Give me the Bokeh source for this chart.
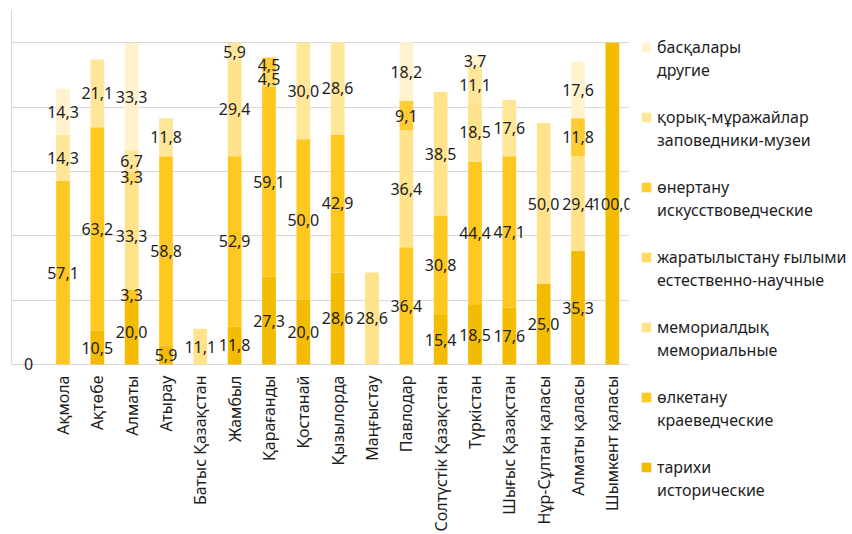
import math
from bokeh.plotting import figure
from bokeh.layouts import row
from bokeh.models import (ColumnDataSource, FactorRange, Range1d, FixedTicker, LabelSet,
                          Legend, LegendItem)
from bokeh.core.properties import value
from bokeh.embed import file_html
from bokeh.resources import INLINE

categories = [" ", "Ақмола", "Ақтөбе", "Алматы", "Атырау", "Батыс Қазақстан", "Жамбыл",
              "Қарағанды", "Қостанай", "Қызылорда", "Маңғыстау", "Павлодар",
              "Солтүстік Қазақстан", "Түркістан", "Шығыс Қазақстан", "Нұр-Сұлтан қаласы",
              "Алматы қаласы", "Шымкент қаласы"]

tarihi =    [0, 0, 10.5, 20.0, 5.9, 0, 11.8, 27.3, 20.0, 28.6, 0, 0, 15.4, 18.5, 17.6, 25.0, 35.3, 100.0]
olketanu =  [0, 57.1, 63.2, 3.3, 58.8, 0, 52.9, 59.1, 50.0, 42.9, 0, 36.4, 30.8, 44.4, 47.1, 0, 0, 0]
memorial =  [0, 0, 0, 33.3, 0, 11.1, 29.4, 0, 0, 0, 28.6, 36.4, 38.5, 18.5, 0, 50.0, 29.4, 0]
zharat =    [0, 0, 0, 3.3, 0, 0, 0, 4.5, 0, 0, 0, 0, 0, 0, 0, 0, 0, 0]
oner =      [0, 0, 0, 0, 0, 0, 0, 4.5, 0, 0, 0, 9.1, 0, 0, 0, 0, 11.8, 0]
koryk =     [0, 14.3, 21.1, 6.7, 11.8, 0, 5.9, 0, 30.0, 28.6, 0, 0, 0, 11.1, 17.6, 0, 0, 0]
baska =     [0, 14.3, 0, 33.3, 0, 0, 0, 0, 0, 0, 0, 18.2, 0, 3.7, 0, 0, 17.6, 0]

series_keys = ["tarihi", "olketanu", "memorial", "zharat", "oner", "koryk", "baska"]
names_kz = ["тарихи", "өлкетану", "мемориалдық", "жаратылыстану ғылыми", "өнертану",
            "қорық-мұражайлар", "басқалары"]
names_ru = ["исторические", "краеведческие", "мемориальные", "естественно-научные",
            "искусствоведческие", "заповедники-музеи", "другие"]
colors = ["#F4BC00", "#FFC820", "#FFE28A", "#FFD966", "#FFCC33", "#FFE699", "#FFF2CC"]

FONT = "Noto Sans"
TXT = "#1E1E1E"

data = dict(cat=categories, tarihi=tarihi, olketanu=olketanu, memorial=memorial,
            zharat=zharat, oner=oner, koryk=koryk, baska=baska)
source = ColumnDataSource(data)

p = figure(x_range=FactorRange(*categories, range_padding=0), y_range=Range1d(-2.5, 110),
           width=640, height=534, output_backend="svg", toolbar_location=None,
           min_border_left=11, min_border_top=10, min_border_bottom=161,
           min_border_right=11, frame_align=False)
p.outline_line_color = None

# category axis
p.xaxis.axis_line_color = None
p.xaxis.major_tick_line_color = None
p.xaxis.minor_tick_line_color = None
p.xaxis.major_tick_out = 0
p.xaxis.major_tick_in = 0
p.xaxis.major_label_orientation = math.pi / 2
p.xaxis.major_label_standoff = 3
p.xaxis.major_label_text_font = FONT
p.xaxis.major_label_text_font_size = "16px"
p.xaxis.major_label_text_color = TXT

# grid
p.xgrid.visible = False
p.ygrid.ticker = FixedTicker(ticks=[0, 20, 40, 60, 80, 100])
p.ygrid.grid_line_color = "#D9D9D9"
p.ygrid.grid_line_width = 1

# value axis: only the line
p.yaxis.ticker = FixedTicker(ticks=[])
p.yaxis.bounds = (0, 110)
p.yaxis.axis_line_color = "#D9D9D9"
p.yaxis.major_tick_line_color = None
p.yaxis.minor_tick_line_color = None
p.yaxis.major_tick_out = 0
p.yaxis.major_tick_in = 0
p.yaxis.major_label_standoff = 0

p.vbar_stack(series_keys, x="cat", width=0.4, color=colors, line_color=None, source=source)

# data labels at segment centres
lx, ly, lt = [], [], []
for i, c in enumerate(categories):
    base = 0.0
    total = 0.0
    for arr in (tarihi, olketanu, memorial, zharat, oner, koryk, baska):
        v = arr[i]
        if v > 0:
            lx.append(c)
            ly.append(base + v / 2)
            lt.append(f"{v:.1f}".replace(".", ","))
        base += v
        total += v
    if total == 0:
        lx.append(c)
        ly.append(0)
        lt.append("0")
lab_src = ColumnDataSource(dict(x=lx, y=ly, t=lt))
p.add_layout(LabelSet(x="x", y="y", text="t", source=lab_src, text_align="center",
                      text_baseline="middle", text_font=value(FONT),
                      text_font_size=value("16px"), text_color=value(TXT)))

# legend panel (hidden proxy renderers carry the swatch colours)
lg = figure(x_range=FactorRange(*categories), y_range=Range1d(0, 1), width=212, height=534,
            output_backend="svg", toolbar_location=None, frame_align=False,
            min_border_left=0, min_border_right=0, min_border_top=35, min_border_bottom=0)
lg.outline_line_color = None
lg.axis.visible = False
lg.grid.visible = False
swatches = [lg.vbar(x="cat", top=k, width=0.4, source=source, fill_color=c, line_color=None,
                    visible=False)
            for k, c in zip(series_keys, colors)]
blank = lg.vbar(x="cat", top="tarihi", width=0.4, source=source, fill_alpha=0, line_alpha=0,
                visible=False)

common = dict(location="top_left", border_line_color=None, background_fill_alpha=0,
              inactive_fill_alpha=0, label_text_font=FONT, label_text_font_size="16px",
              label_text_color=TXT, glyph_width=12, glyph_height=12, label_standoff=5,
              padding=0, margin=0)
order = range(len(series_keys) - 1, -1, -1)
leg1 = Legend(items=[LegendItem(label=names_kz[k], renderers=[swatches[k]]) for k in order],
              label_height=24, spacing=46, **common)
leg2 = Legend(items=[LegendItem(label=names_ru[k], renderers=[blank]) for k in order],
              label_height=70, spacing=0, **common)
lg.add_layout(leg1)
lg.add_layout(leg2)

open("out.html", "w").write(file_html(row(p, lg), INLINE))
